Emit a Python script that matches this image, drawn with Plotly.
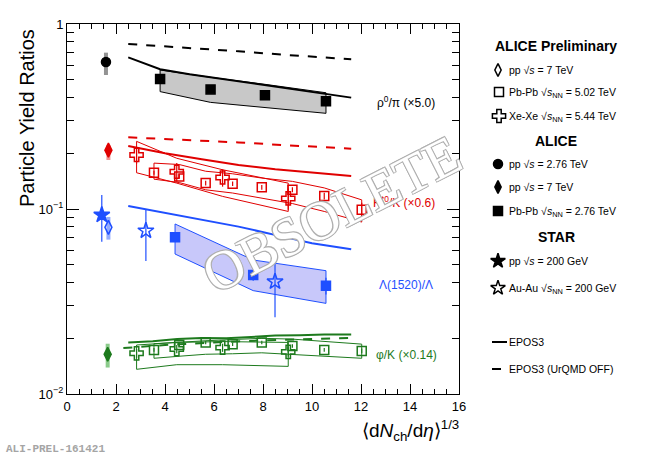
import plotly.graph_objects as go

W, H = 654, 458

# ---------------- data ----------------
# rho0/pi (x5.0)
rho_pp276_x = [1.59]; rho_pp276_y = [0.623]; rho_pp276_sys_p = [0.077]; rho_pp276_sys_m = [0.093]
rho_pb276_x = [3.80, 5.86, 8.08, 10.57]
rho_pb276_y = [0.504, 0.443, 0.412, 0.382]
rho_pb276_err = [0.010, 0.010, 0.008, 0.010]
rho_pb276_sys_hi = [0.564, 0.515, 0.472, 0.425]
rho_pb276_sys_lo = [0.431, 0.377, 0.355, 0.329]
rho_epos_x = [2.5, 3.8, 5.0, 6.5, 8.0, 9.5, 10.6, 11.6]
rho_epos_y = [0.66, 0.57, 0.535, 0.50, 0.47, 0.44, 0.415, 0.40]
rho_nouq_x = [2.5, 5.0, 7.0, 9.0, 11.6]
rho_nouq_y = [0.78, 0.745, 0.712, 0.68, 0.645]

# K*0/K (x0.6)
ks_pp7_x = [1.69]; ks_pp7_y = [0.208]; ks_pp7_sys_p = [0.014]; ks_pp7_sys_m = [0.024]
ks_xe_x = [2.84, 4.48, 6.35, 9.03]
ks_xe_y = [0.196, 0.159, 0.148, 0.114]
ks_xe_err = [0.020, 0.018, 0.016, 0.015]
ks_xe_sys_hi = [0.232, 0.188, 0.163, 0.138]
ks_xe_sys_lo = [0.157, 0.138, 0.117, 0.097]
ks_pb_x = [3.55, 4.58, 5.66, 6.76, 7.95, 9.20, 10.50, 12.03]
ks_pb_y = [0.157, 0.150, 0.138, 0.137, 0.131, 0.127, 0.1175, 0.099]
ks_pb_err = [0.004, 0.004, 0.004, 0.004, 0.004, 0.004, 0.005, 0.009]
ks_pb_sys_hi = [0.177, 0.174, 0.160, 0.155, 0.147, 0.141, 0.130, 0.112]
ks_pb_sys_lo = [0.145, 0.139, 0.127, 0.122, 0.114, 0.107, 0.097, 0.085]
ks_epos_x = [2.5, 4.0, 5.5, 7.0, 8.5, 10.0, 11.6]
ks_epos_y = [0.219, 0.200, 0.186, 0.173, 0.164, 0.157, 0.151]
ks_nouq_x = [2.5, 5.0, 7.0, 9.0, 11.6]
ks_nouq_y = [0.244, 0.236, 0.229, 0.221, 0.212]

# Lambda(1520)/Lambda
lam_starpp_x = [1.42]; lam_starpp_y = [0.0929]; lam_starpp_ep = [0.026]; lam_starpp_em = [0.0263]
lam_pp7_x = [1.69]; lam_pp7_y = [0.0796]; lam_pp7_sys_p = [0.011]; lam_pp7_sys_m = [0.0113]
lam_auau_x = [3.22, 8.49]; lam_auau_y = [0.0763, 0.0405]
lam_auau_ep = [0.0224, 0.0143]; lam_auau_em = [0.0239, 0.0145]
lam_pb_x = [4.41, 7.60, 10.57]
lam_pb_y = [0.0703, 0.0440, 0.0385]
lam_pb_err = [0.002, 0.003, 0.004]
lam_pb_sys_hi = [0.083, 0.053, 0.0464]
lam_pb_sys_lo = [0.0571, 0.0362, 0.0309]
lam_epos_x = [2.5, 4.0, 5.5, 7.0, 8.8, 10.0, 11.6]
lam_epos_y = [0.1038, 0.0955, 0.088, 0.0803, 0.0709, 0.0653, 0.0606]

# phi/K (x0.14)
phi_pp7_x = [1.66]; phi_pp7_y = [0.0164]; phi_pp7_sys_p = [0.0023]; phi_pp7_sys_m = [0.0025]
phi_xe_x = [2.84, 4.48, 6.35, 9.03]
phi_xe_y = [0.0166, 0.0175, 0.0178, 0.0169]
phi_xe_err = [0.0009, 0.0009, 0.0009, 0.0010]
phi_xe_sys_hi = [0.0184, 0.0190, 0.0192, 0.0190]
phi_xe_sys_lo = [0.0136, 0.0144, 0.0144, 0.0141]
phi_pb_x = [3.55, 4.58, 5.66, 6.76, 7.95, 9.20, 10.50, 12.03]
phi_pb_y = [0.0173, 0.0184, 0.0190, 0.0186, 0.0190, 0.0182, 0.0173, 0.0171]
phi_pb_err = [0.0004, 0.0004, 0.0004, 0.0004, 0.0004, 0.0004, 0.0004, 0.0005]
phi_pb_sys_hi = [0.0187, 0.0191, 0.0194, 0.0197, 0.0200, 0.0198, 0.0192, 0.0186]
phi_pb_sys_lo = [0.0156, 0.0160, 0.0164, 0.0165, 0.0167, 0.0165, 0.0160, 0.0156]
phi_epos_x = [2.5, 3.5, 4.5, 5.5, 6.5, 7.5, 8.5, 9.5, 10.5, 11.6]
phi_epos_y = [0.0190, 0.0193, 0.0198, 0.0201, 0.0200, 0.0203, 0.0207, 0.0208, 0.0210, 0.0210]
phi_nouq_x = [2.3, 4.0, 6.0, 8.0, 10.0, 11.6]
phi_nouq_y = [0.0177, 0.0184, 0.0190, 0.0195, 0.0198, 0.0201]

x_tick_vals = [0, 2, 4, 6, 8, 10, 12, 14, 16]
y_tick_vals = [0.01, 0.1, 1]
y_tick_text = ["10<sup>−2</sup>", "10<sup>−1</sup>", "1"]

# ---------------- style ----------------
FONT = "Liberation Sans, Arial, sans-serif"
BLACK = "#000000"
RED = "#e00000"
BLUE = "#1f4fff"
GREEN = "#1d7a1d"
L, R, T, B = 67, 459, 24, 394   # plot frame in pixels

fig = go.Figure()

def sysbar(x, y, p, m, color):
    fig.add_trace(go.Scatter(x=x, y=y, mode="markers", marker=dict(size=1, opacity=0),
                             error_y=dict(type="data", array=p, arrayminus=m, color=color,
                                          thickness=4, width=0), showlegend=False, hoverinfo="skip"))

def band(x, hi, lo, line, fill):
    fig.add_trace(go.Scatter(x=list(x) + list(x)[::-1] + [x[0]], y=list(hi) + list(lo)[::-1] + [hi[0]],
                             mode="lines", fill="toself", fillcolor=fill,
                             line=dict(color=line, width=1), showlegend=False, hoverinfo="skip"))

def pts(x, y, sym, color, size=9, ep=None, em=None, lw=1.5):
    ey = None
    if ep is not None:
        ey = dict(type="data", array=ep, arrayminus=em if em is not None else ep,
                  color=color, thickness=1.2, width=0)
    mline = dict(color=color, width=lw)
    fig.add_trace(go.Scatter(x=x, y=y, mode="markers", error_y=ey,
                             marker=dict(symbol=sym, size=size, color=color, line=mline),
                             showlegend=False))

def curve(x, y, color, dash="solid"):
    fig.add_trace(go.Scatter(x=x, y=y, mode="lines", line=dict(color=color, width=2, dash=dash),
                             showlegend=False, hoverinfo="skip"))

# rho
band(rho_pb276_x, rho_pb276_sys_hi, rho_pb276_sys_lo, BLACK, "rgba(200,200,200,1)")
curve(rho_epos_x, rho_epos_y, BLACK)
curve(rho_nouq_x, rho_nouq_y, BLACK, "dash")
sysbar(rho_pp276_x, rho_pp276_y, rho_pp276_sys_p, rho_pp276_sys_m, "rgba(120,120,120,0.8)")
pts(rho_pp276_x, rho_pp276_y, "circle", BLACK, 9)
pts(rho_pb276_x, rho_pb276_y, "square", BLACK, 9, rho_pb276_err)

# K*
band(ks_xe_x, ks_xe_sys_hi, ks_xe_sys_lo, RED, "rgba(0,0,0,0)")
band(ks_pb_x, ks_pb_sys_hi, ks_pb_sys_lo, RED, "rgba(0,0,0,0)")
curve(ks_epos_x, ks_epos_y, RED)
curve(ks_nouq_x, ks_nouq_y, RED, "dash")
sysbar(ks_pp7_x, ks_pp7_y, ks_pp7_sys_p, ks_pp7_sys_m, "rgba(240,120,120,0.8)")
pts(ks_pp7_x, ks_pp7_y, "diamond-tall", RED, 10)
pts(ks_pb_x, ks_pb_y, "square-open", RED, 9, ks_pb_err)
pts(ks_xe_x, ks_xe_y, "cross-open", RED, 11, ks_xe_err)

# Lambda
band(lam_pb_x, lam_pb_sys_hi, lam_pb_sys_lo, BLUE, "rgba(200,200,250,1)")
curve(lam_epos_x, lam_epos_y, BLUE)
sysbar(lam_pp7_x, lam_pp7_y, lam_pp7_sys_p, lam_pp7_sys_m, "rgba(120,150,255,0.8)")
pts(lam_starpp_x, lam_starpp_y, "star", BLUE, 12, lam_starpp_ep, lam_starpp_em)
pts(lam_pp7_x, lam_pp7_y, "diamond-tall-open", BLUE, 10)
pts(lam_auau_x, lam_auau_y, "star-open", BLUE, 12, lam_auau_ep, lam_auau_em)
pts(lam_pb_x, lam_pb_y, "square", BLUE, 9, lam_pb_err)

# phi
band(phi_xe_x, phi_xe_sys_hi, phi_xe_sys_lo, GREEN, "rgba(0,0,0,0)")
band(phi_pb_x, phi_pb_sys_hi, phi_pb_sys_lo, GREEN, "rgba(0,0,0,0)")
curve(phi_epos_x, phi_epos_y, GREEN)
curve(phi_nouq_x, phi_nouq_y, GREEN, "dash")
sysbar(phi_pp7_x, phi_pp7_y, phi_pp7_sys_p, phi_pp7_sys_m, "rgba(110,190,110,0.8)")
pts(phi_pp7_x, phi_pp7_y, "diamond-tall", GREEN, 10)
pts(phi_pb_x, phi_pb_y, "square-open", GREEN, 9, phi_pb_err)
pts(phi_xe_x, phi_xe_y, "cross-open", GREEN, 11, phi_xe_err)

# ---------------- legend (drawn on an overlay axis in pixel units) ----------------
legend_markers = [
    ("diamond-tall-open", 498, 70), ("square-open", 499, 92), ("cross-open", 499, 116),
    ("circle", 498, 164), ("diamond-tall", 498, 187), ("square", 498, 211),
    ("star", 498, 261), ("star-open", 498, 288),
]
for sym, lx, ly in legend_markers:
    fig.add_trace(go.Scatter(x=[lx], y=[ly], xaxis="x2", yaxis="y2", mode="markers",
                             marker=dict(symbol=sym, size=11 if "star" in sym or "cross" in sym else 9,
                                         color=BLACK, line=dict(color=BLACK, width=1.5)),
                             showlegend=False, hoverinfo="skip"))
fig.add_trace(go.Scatter(x=[492, 507], y=[342, 342], xaxis="x2", yaxis="y2", mode="lines",
                         line=dict(color=BLACK, width=2), showlegend=False, hoverinfo="skip"))
fig.add_trace(go.Scatter(x=[492, 507], y=[369, 369], xaxis="x2", yaxis="y2", mode="lines",
                         line=dict(color=BLACK, width=2, dash="dash"), showlegend=False, hoverinfo="skip"))

legend_texts = [
    ("pp √<i>s</i> = 7 TeV", 70), ("Pb-Pb √<i>s</i><sub>NN</sub> = 5.02 TeV", 93),
    ("Xe-Xe √<i>s</i><sub>NN</sub> = 5.44 TeV", 117),
    ("pp √<i>s</i> = 2.76 TeV", 164), ("pp √<i>s</i> = 7 TeV", 187),
    ("Pb-Pb √<i>s</i><sub>NN</sub> = 2.76 TeV", 212),
    ("pp √<i>s</i> = 200 GeV", 261), ("Au-Au √<i>s</i><sub>NN</sub> = 200 GeV", 289),
    ("EPOS3", 342), ("EPOS3 (UrQMD OFF)", 369),
]
headers = [("ALICE Preliminary", 46), ("ALICE", 141), ("STAR", 237)]

def px(x):
    return x / W

def py(y):
    return 1 - y / H

ann = []
for t, ly in legend_texts:
    ann.append(dict(text=t, x=px(507), y=py(ly), xanchor="left", yanchor="middle",
                    font=dict(size=10.5, family=FONT, color=BLACK)))
for t, ly in headers:
    ann.append(dict(text="<b>" + t + "</b>", x=px(556), y=py(ly), xanchor="center", yanchor="middle",
                    font=dict(size=14, family=FONT, color=BLACK)))

labels = [
    ("ρ<sup>0</sup>/π (×5.0)", 375, 102, BLACK),
    ("K<sup>*0</sup>/K (×0.6)", 371, 202, RED),
    ("Λ(1520)/Λ", 377, 285, BLUE),
    ("φ/K (×0.14)", 374, 355, GREEN),
]
for t, lx, ly, c in labels:
    ann.append(dict(text=t, x=px(lx), y=py(ly), xanchor="left", yanchor="middle",
                    font=dict(size=12, family=FONT, color=c)))

ann.append(dict(text="Particle Yield Ratios", x=px(27), y=py(118), textangle=-90,
                xanchor="center", yanchor="middle", font=dict(size=20, family=FONT, color=BLACK)))
ann.append(dict(text="⟨d<i>N</i><sub>ch</sub>/d<i>η</i>⟩<sup>1/3</sup>", x=px(461), y=py(430),
                xanchor="right", yanchor="middle", font=dict(size=19, family=FONT, color=BLACK)))
ann.append(dict(text="<b>ALI-PREL-161421</b>", x=px(4), y=py(449), xanchor="left", yanchor="middle",
                font=dict(size=11, family="Liberation Mono, DejaVu Sans Mono, monospace",
                          color="rgb(165,165,165)")))
ann.append(dict(text="OBSOLETE", x=px(331), y=py(214), textangle=-27, xanchor="center", yanchor="middle",
                font=dict(size=55, family="Liberation Serif, Times New Roman, serif", color="white",
                          shadow="-1px -1px 0 #b0b0b0, 1px -1px 0 #b0b0b0, -1px 1px 0 #b0b0b0, 1px 1px 0 #b0b0b0")))

for a in ann:
    a.update(xref="paper", yref="paper", showarrow=False)

minor_y = [v * m for v in (0.01, 0.1) for m in range(2, 10)]

fig.update_layout(
    template="none",
    width=W, height=H, margin=dict(l=0, r=0, t=0, b=0, autoexpand=False),
    paper_bgcolor="white", plot_bgcolor="white", showlegend=False,
    font=dict(family=FONT, color=BLACK),
    annotations=ann,
    xaxis=dict(domain=[L / W, R / W], range=[0, 16], showgrid=False, zeroline=False, automargin=False,
               showline=True, linecolor=BLACK, linewidth=1, mirror="allticks",
               ticks="inside", ticklen=10, tickcolor=BLACK, tickvals=x_tick_vals,
               tickfont=dict(size=13, family=FONT),
               minor=dict(ticks="inside", ticklen=5, dtick=0.5, tickcolor=BLACK, showgrid=False)),
    yaxis=dict(domain=[1 - B / H, 1 - T / H], type="log", range=[-2, 0], showgrid=False, zeroline=False,
               automargin=False,
               showline=True, linecolor=BLACK, linewidth=1, mirror="allticks",
               ticks="inside", ticklen=12, tickcolor=BLACK, tickvals=y_tick_vals, ticktext=y_tick_text,
               tickfont=dict(size=13, family=FONT),
               minor=dict(ticks="inside", ticklen=7, tickvals=minor_y, tickcolor=BLACK, showgrid=False)),
    xaxis2=dict(domain=[480 / W, 1], range=[480, W], visible=False, fixedrange=True, anchor="y2",
                automargin=False),
    yaxis2=dict(domain=[0, 1], range=[H, 0], visible=False, fixedrange=True, anchor="x2",
                automargin=False),
)

fig.write_html("out.html", config={"displayModeBar": False},
               post_script="document.body.style.margin='0px';document.body.style.padding='0px';"
                           "document.body.style.overflow='hidden';")
